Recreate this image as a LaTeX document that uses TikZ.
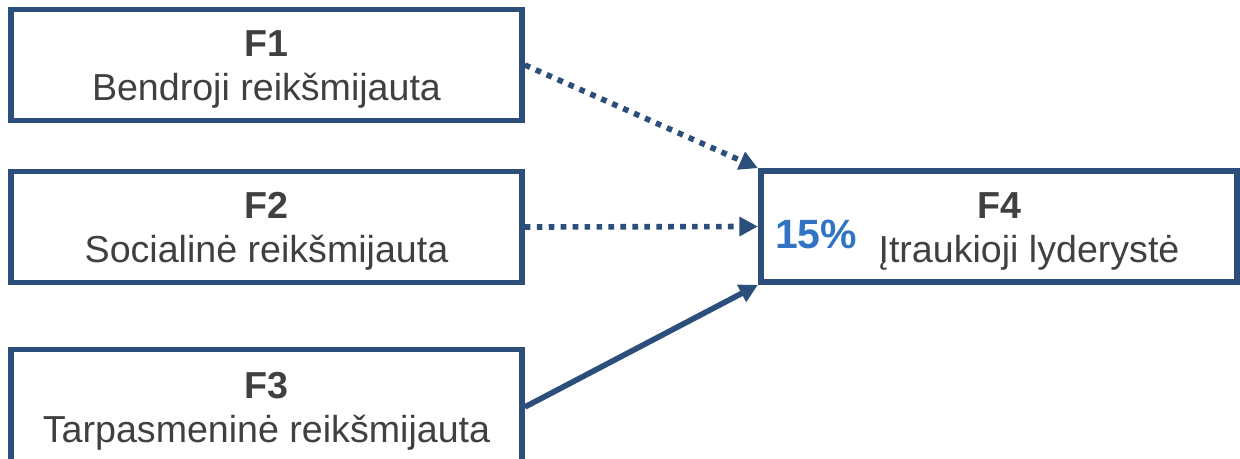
\documentclass[tikz,border=0pt]{standalone}
\usepackage{fontspec}
\setmainfont{Liberation Sans}
\usepackage{tikz}
\usetikzlibrary{arrows.meta}
\definecolor{fborder}{RGB}{44,78,122}
\definecolor{ftext}{RGB}{64,64,64}
\definecolor{fpct}{RGB}{49,116,196}
\newcommand{\capstrut}{\rule{0pt}{20pt}}
\tikzset{factor/.style={draw=fborder, line width=3.3pt, align=center, text=ftext,
    font=\fontsize{21.4}{25}\selectfont, inner sep=0pt}}
\tikzset{causal/.style={draw=fborder, line width=3.2pt,
    -{Triangle[length=10.5pt, width=10.5pt]}}}
\tikzset{nonsig/.style={causal, dash pattern=on 3.2pt off 3.6pt}}

\begin{document}
\begin{tikzpicture}[x=0.02cm,y=-0.02cm]
  \useasboundingbox (0,0) rectangle (1240,459);
  \foreach \y/\h/\lab/\name/\txt in {
    65/2.22/f1/F1/Bendroji reikšmijauta,
    227/2.22/f2/F2/Socialinė reikšmijauta,
    407/2.30/f3/F3/Tarpasmeninė reikšmijauta%
  } {
    \node[factor, minimum width=10.22cm, minimum height=\h cm] (\lab) at (266.5, \y)
      {\capstrut\textbf{\name}\\\txt};
  }
  \node[factor, minimum width=9.53cm, minimum height=2.22cm] (f4) at (999, 226.5)
    {\capstrut\textbf{F4}\\\hspace*{1.2cm}Įtraukioji lyderystė};
  \node[text=fpct, font=\fontsize{23.3}{27}\selectfont\bfseries] (pct) at (816, 234) {15\%};
  \draw[nonsig] (f1.east) -- (f4.north west);
  \draw[nonsig] (f2.east) -- (f4.west);
  \draw[causal] (f3.east) -- (f4.south west);
\end{tikzpicture}
\end{document}
